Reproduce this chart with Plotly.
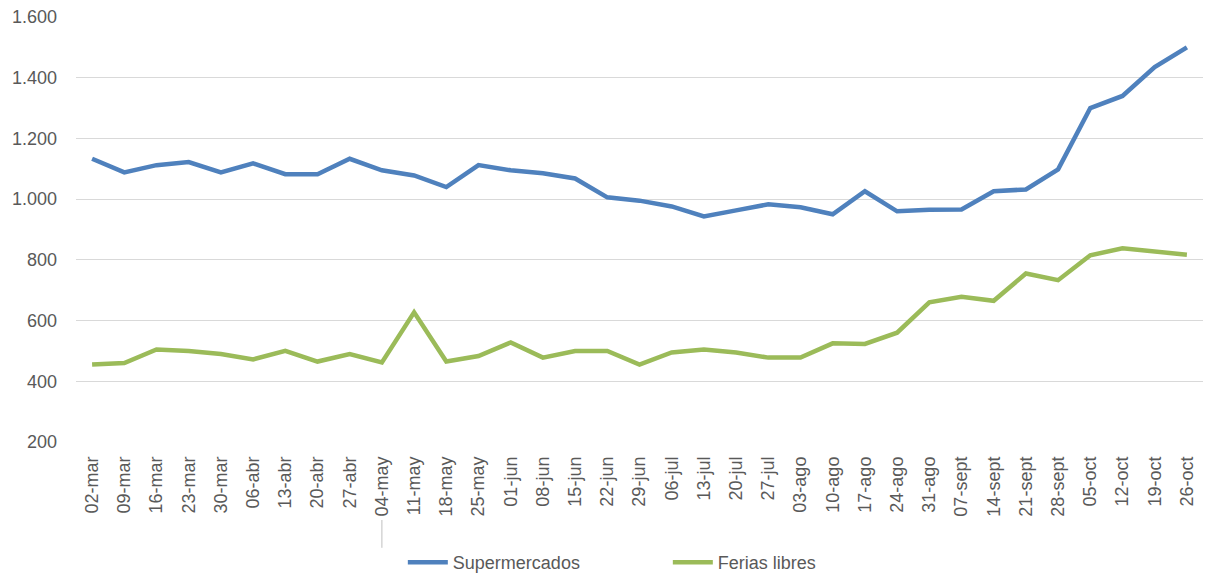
import plotly.graph_objects as go

categories = ["02-mar", "09-mar", "16-mar", "23-mar", "30-mar", "06-abr", "13-abr", "20-abr",
              "27-abr", "04-may", "11-may", "18-may", "25-may", "01-jun", "08-jun", "15-jun",
              "22-jun", "29-jun", "06-jul", "13-jul", "20-jul", "27-jul", "03-ago", "10-ago",
              "17-ago", "24-ago", "31-ago", "07-sept", "14-sept", "21-sept", "28-sept",
              "05-oct", "12-oct", "19-oct", "26-oct"]

supermercados = [1133, 1088, 1112, 1122, 1088, 1118, 1082, 1082, 1133, 1095, 1078, 1040, 1112,
                 1095, 1085, 1068, 1006, 995, 976, 943, 963, 983, 973, 950, 1026, 960, 965, 966,
                 1026, 1032, 1098, 1300, 1340, 1435, 1500]

ferias_libres = [455, 460, 505, 500, 490, 472, 500, 465, 490, 462, 627, 465, 483, 528, 478, 500,
                 500, 455, 495, 505, 495, 478, 478, 525, 523, 560, 660, 678, 665, 755, 733, 815,
                 838, 826, 817]

y_ticks = [200, 400, 600, 800, 1000, 1200, 1400, 1600]

font_family = "Liberation Sans, Arial, sans-serif"
gray = "#595959"

fig = go.Figure()
fig.add_trace(go.Scatter(x=categories, y=supermercados, name="Supermercados", mode="lines",
                         line=dict(color="#4F81BD", width=4.5)))
fig.add_trace(go.Scatter(x=categories, y=ferias_libres, name="Ferias libres", mode="lines",
                         line=dict(color="#9BBB59", width=4.5)))

fig.update_layout(
    width=1204, height=573,
    margin=dict(l=68, r=9, t=9, b=139),
    paper_bgcolor="white", plot_bgcolor="white",
    separators=",.",
    font=dict(family=font_family, color=gray, size=18),
    showlegend=True,
    legend=dict(orientation="h", x=0.290, xanchor="left", yref="container", y=0.0,
                yanchor="bottom", entrywidth=210, font=dict(size=18, color=gray),
                itemwidth=40),
    xaxis=dict(type="category", tickangle=-90, showgrid=False, showline=False, automargin=False,
               ticks="", tickfont=dict(size=18, color=gray), ticklabelstandoff=10,
               range=[-0.5, len(categories) - 0.5], ticklabeloverflow="allow"),
    yaxis=dict(range=[200, 1600], tickvals=y_ticks, tickformat=",d", showgrid=True,
               automargin=False, ticklabeloverflow="allow",
               gridcolor="#D9D9D9", gridwidth=1.3, zeroline=False, showline=False,
               tickfont=dict(size=18, color=gray), ticks="", ticklabelstandoff=18),
)

fig.add_shape(type="line", xref="x", yref="paper", x0="04-may", x1="04-may", y0=-0.1835, y1=-0.249,
              line=dict(color="#BFBFBF", width=1))

fig.write_html("out.html")
